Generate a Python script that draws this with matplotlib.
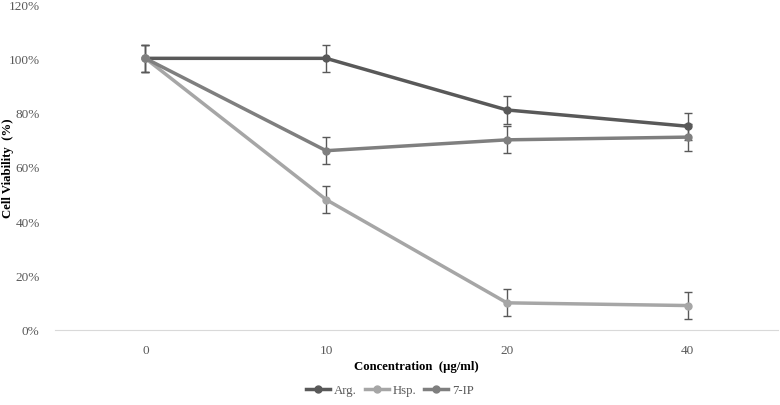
import matplotlib
matplotlib.use("Agg")
import matplotlib.pyplot as plt
from matplotlib.ticker import FuncFormatter
from matplotlib.lines import Line2D

plt.rcParams['font.family'] = ['Liberation Serif', 'DejaVu Serif']

categories = ["0", "10", "20", "40"]
arg = [100, 100, 81, 75]
hsp = [100, 48, 10, 9]
ip7 = [100, 66, 70, 71]
err = [5, 5, 5, 5]
series = [("Arg.", arg, "#595959"), ("Hsp.", hsp, "#a6a6a6"), ("7-IP", ip7, "#7f7f7f")]

fig = plt.figure(figsize=(7.8, 4.06), dpi=100)
ax = fig.add_axes([55/780, 75/406, 723/780, 326/406])
x = list(range(len(categories)))
handles = []
for name, vals, col in series:
    ax.errorbar(x, vals, yerr=err, color=col, lw=2.5, marker='o', ms=5,
                ecolor='#595959', elinewidth=1, capsize=3, capthick=1)
    handles.append(Line2D([], [], color=col, lw=2.5, marker='o', ms=5, label=name))

ax.set_xlim(-0.5, len(categories) - 0.5)
ax.set_ylim(0, 120)
ax.set_yticks(range(0, 121, 20))
ax.yaxis.set_major_formatter(FuncFormatter(lambda v, p: f"{int(v)}%"))
ax.set_xticks(x)
ax.set_xticklabels(categories)
for s in ['top', 'right', 'left']:
    ax.spines[s].set_visible(False)
ax.spines['bottom'].set_color('#d9d9d9')
ax.tick_params(axis='both', length=0, labelsize=9.5, colors='#595959')
ax.tick_params(axis='x', pad=10)
ax.tick_params(axis='y', pad=11)
ax.set_xlabel("Concentration  (µg/ml)", fontsize=9.2, fontweight='bold')
ax.xaxis.set_label_coords(0.5, -30/326, transform=ax.transAxes)
ax.set_ylabel("Cell Viability  (%)", fontsize=9.2, fontweight='bold')
ax.yaxis.set_label_coords(-41/723, 0.5, transform=ax.transAxes)
fig.legend(handles=handles, loc='center', bbox_to_anchor=(0.5, 1 - 391/406), ncol=3,
           frameon=False, fontsize=9.2, handlelength=1.9, handletextpad=0.3,
           columnspacing=0.6, labelcolor='#595959')
fig.savefig("out.png", dpi=100)
